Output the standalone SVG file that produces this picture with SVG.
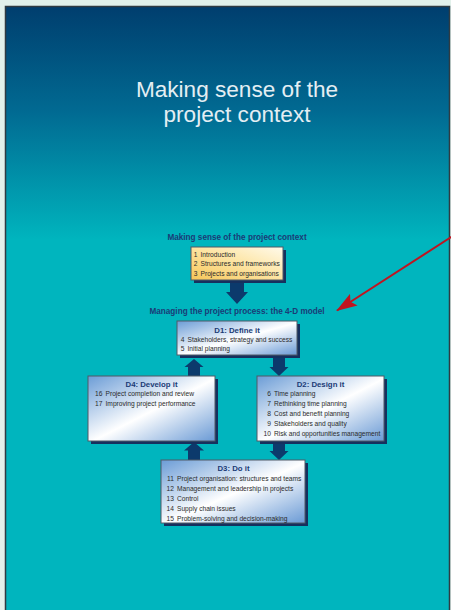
<svg xmlns="http://www.w3.org/2000/svg" width="451" height="610" viewBox="0 0 451 610">
  <defs>
    <linearGradient id="bg" x1="0" y1="6" x2="0" y2="240" gradientUnits="userSpaceOnUse">
      <stop offset="0" stop-color="#003e6e"/>
      <stop offset="0.45" stop-color="#016a92"/>
      <stop offset="1" stop-color="#00b5be"/>
    </linearGradient>
    <linearGradient id="blueBox" x1="0" y1="0" x2="1" y2="1">
      <stop offset="0" stop-color="#6b9cd6"/>
      <stop offset="0.52" stop-color="#ffffff"/>
      <stop offset="1" stop-color="#6a9ad5"/>
    </linearGradient>
    <linearGradient id="yellowBox" x1="0" y1="1" x2="1" y2="0">
      <stop offset="0" stop-color="#f6c658"/>
      <stop offset="0.55" stop-color="#fde6a8"/>
      <stop offset="1" stop-color="#fffaec"/>
    </linearGradient>
    <marker id="redHead" markerWidth="22" markerHeight="14" refX="20" refY="7" orient="auto" markerUnits="userSpaceOnUse">
      <path d="M0,0 L21,7 L0,14 L4,7 Z" fill="#c01420"/>
    </marker>
    <style>
      .box { fill: url(#blueBox); stroke: #505a66; stroke-width: 1; }
      .ybox { fill: url(#yellowBox); stroke: #505a66; stroke-width: 1; }
      .shadow { fill: #16305e; }
      .blk { fill: #0c3a6c; }
      .title { font-family: "Liberation Sans", Arial, sans-serif; font-weight: bold; font-size: 7.8px; fill: #1b3b76; text-anchor: middle; }
      .head { font-family: "Liberation Sans", Arial, sans-serif; font-weight: bold; font-size: 8.2px; fill: #1b3b76; text-anchor: middle; }
      .item { font-family: "Liberation Sans", Arial, sans-serif; font-size: 6.65px; fill: #2a2a2a; }
      .num { font-family: "Liberation Sans", Arial, sans-serif; font-size: 6.65px; fill: #2a2a2a; text-anchor: end; }
      .big { font-family: "Liberation Sans", Arial, sans-serif; font-size: 22.6px; fill: #e4eef3; text-anchor: middle; }
    </style>
  </defs>

  <!-- page background -->
  <rect x="0" y="0" width="451" height="610" fill="#e2f1eb"/>
  <rect x="5.5" y="6.5" width="444" height="620" fill="url(#bg)" stroke="#2f3b42" stroke-width="1.5"/>

  <!-- main title -->
  <text class="big" x="237" y="97">Making sense of the</text>
  <text class="big" x="237" y="122">project context</text>

  <!-- section headings -->
  <text class="head" x="237" y="240">Making sense of the project context</text>
  <text class="head" x="237" y="314">Managing the project process: the 4-D model</text>

  <!-- connectors (block arrows) -->
  <g id="connectors">
    <path class="blk" d="M230,280 H244 V292 H248 L237,304 L226,292 H230 Z"/>
    <path class="blk" d="M273,354 H285 V367 H288.5 L279,376 L269.5,367 H273 Z"/>
    <path class="blk" d="M188,377 H200 V367 H203.5 L194,359 L184.5,367 H188 Z"/>
    <path class="blk" d="M188,461 H200 V450.5 H204 L194,442 L184,450.5 H188 Z"/>
    <path class="blk" d="M273,440 H285 V451 H288.5 L279,460 L269.5,451 H273 Z"/>
  </g>

  <!-- Intro node -->
  <g id="intro">
    <rect class="shadow" x="194" y="250" width="92" height="33"/>
    <rect class="ybox" x="191" y="247" width="92" height="33"/>
    <text class="num" x="197.5" y="256.5">1</text>
    <text class="item" x="200.5" y="256.5">Introduction</text>
    <text class="num" x="197.5" y="266">2</text>
    <text class="item" x="200.5" y="266">Structures and frameworks</text>
    <text class="num" x="197.5" y="275.5">3</text>
    <text class="item" x="200.5" y="275.5">Projects and organisations</text>
  </g>

  <!-- D1 -->
  <g id="d1">
    <rect class="shadow" x="180" y="324" width="120" height="34"/>
    <rect class="box" x="177" y="321" width="120" height="34"/>
    <text class="title" x="237" y="332.5">D1: Define it</text>
    <text class="num" x="184.5" y="341.5">4</text>
    <text class="item" x="187.5" y="341.5">Stakeholders, strategy and success</text>
    <text class="num" x="184.5" y="351">5</text>
    <text class="item" x="187.5" y="351">Initial planning</text>
  </g>

  <!-- D4 -->
  <g id="d4">
    <rect class="shadow" x="91" y="379" width="127" height="65"/>
    <rect class="box" x="88" y="376" width="127" height="65"/>
    <text class="title" x="151.5" y="386.5">D4: Develop it</text>
    <text class="num" x="102.5" y="396">16</text>
    <text class="item" x="105.5" y="396">Project completion and review</text>
    <text class="num" x="102.5" y="406">17</text>
    <text class="item" x="105.5" y="406">Improving project performance</text>
  </g>

  <!-- D2 -->
  <g id="d2">
    <rect class="shadow" x="260" y="379" width="127" height="65"/>
    <rect class="box" x="257" y="376" width="127" height="65"/>
    <text class="title" x="320.5" y="386.5">D2: Design it</text>
    <text class="num" x="271" y="396">6</text>
    <text class="item" x="274" y="396">Time planning</text>
    <text class="num" x="271" y="406">7</text>
    <text class="item" x="274" y="406">Rethinking time planning</text>
    <text class="num" x="271" y="416">8</text>
    <text class="item" x="274" y="416">Cost and benefit planning</text>
    <text class="num" x="271" y="425.5">9</text>
    <text class="item" x="274" y="425.5">Stakeholders and quality</text>
    <text class="num" x="271" y="435.5">10</text>
    <text class="item" x="274" y="435.5">Risk and opportunities management</text>
  </g>

  <!-- D3 -->
  <g id="d3">
    <rect class="shadow" x="164" y="463" width="144" height="63"/>
    <rect class="box" x="161" y="460" width="144" height="63"/>
    <text class="title" x="233.5" y="470.5">D3: Do it</text>
    <text class="num" x="174" y="480.5">11</text>
    <text class="item" x="177" y="480.5">Project organisation: structures and teams</text>
    <text class="num" x="174" y="490.5">12</text>
    <text class="item" x="177" y="490.5">Management and leadership in projects</text>
    <text class="num" x="174" y="500.5">13</text>
    <text class="item" x="177" y="500.5">Control</text>
    <text class="num" x="174" y="510.5">14</text>
    <text class="item" x="177" y="510.5">Supply chain issues</text>
    <text class="num" x="174" y="520.5">15</text>
    <text class="item" x="177" y="520.5">Problem-solving and decision-making</text>
  </g>

  <!-- red annotation arrow -->
  <g id="annotation">
    <line x1="452" y1="236.5" x2="337" y2="310.5" stroke="#c01420" stroke-width="2" marker-end="url(#redHead)"/>
  </g>
</svg>
